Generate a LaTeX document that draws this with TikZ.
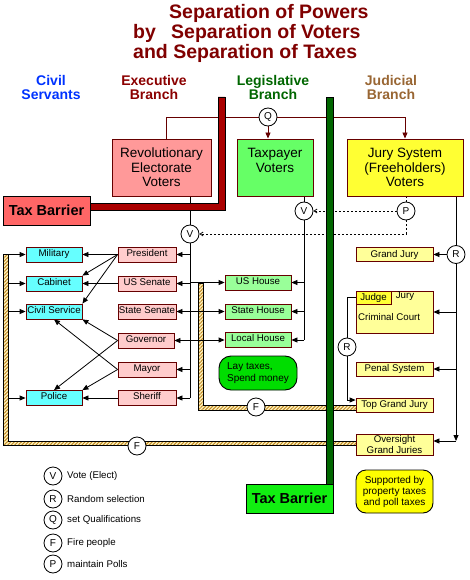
\documentclass[tikz,border=0pt]{standalone}
\usepackage{fontspec}
\setmainfont{Liberation Sans}
\usetikzlibrary{arrows.meta,patterns.meta}
\definecolor{titlered}{HTML}{800000}
\definecolor{execred}{HTML}{8B0000}
\definecolor{legisgreen}{HTML}{006600}
\definecolor{judbrown}{HTML}{996633}
\definecolor{civblue}{HTML}{0033FF}
\definecolor{boxline}{HTML}{660000}
\definecolor{revfill}{HTML}{FF9999}
\definecolor{taxfill}{HTML}{66FF66}
\definecolor{juryfill}{HTML}{FFFF33}
\definecolor{execfill}{HTML}{FFCCCC}
\definecolor{civfill}{HTML}{66FFFF}
\definecolor{housefill}{HTML}{99FF99}
\definecolor{judfill}{HTML}{FFFF99}
\definecolor{suppfill}{HTML}{FFFF00}
\definecolor{laygreen}{HTML}{00DD00}
\definecolor{barredfill}{HTML}{FF6666}
\definecolor{bargreenfill}{HTML}{11EE11}
\definecolor{redbar}{HTML}{AA0000}
\definecolor{greenbar}{HTML}{006600}
\definecolor{hatchbg}{HTML}{FFF2C0}
\definecolor{hatchfg}{HTML}{C08820}
\pgfdeclarelayer{hatchlayer}
\pgfdeclarelayer{back}
\pgfsetlayers{hatchlayer,back,main}
\begin{document}
\begin{tikzpicture}[x=1pt,y=-1pt,
  arr/.style={-{Triangle[length=6pt,width=5pt]}},
  smallarr/.style={-{Straight Barb[length=3pt,width=4pt]}},
  conn/.style={draw=black, line width=0.8pt},
  topline/.style={draw=boxline, line width=0.9pt},
  dashline/.style={draw=black, line width=0.8pt, dash pattern=on 2pt off 2pt},
  titlef/.style={inner sep=0pt, anchor=base west, text=titlered, font=\bfseries\fontsize{19.5}{22}\selectfont},
  headf/.style={inner sep=0pt, anchor=base, font=\bfseries\fontsize{14}{16}\selectfont},
  smallbox/.style={draw=boxline, line width=0.8pt, inner sep=0pt, minimum height=15pt, text height=7pt, text depth=4pt, font=\fontsize{9.7}{11}\selectfont},
  judbox/.style={draw=boxline, line width=0.8pt, inner sep=0pt, minimum width=77pt, fill=judfill, font=\fontsize{9.7}{11.5}\selectfont, align=center},
  bigbox/.style={draw=boxline, line width=0.9pt, inner sep=0pt, minimum height=57pt, align=center, font=\fontsize{13.5}{14.5}\selectfont},
  circ/.style={circle, draw=black, line width=0.8pt, fill=white, minimum size=18pt, inner sep=0pt, font=\fontsize{10}{10}\selectfont},
  barbox/.style={draw=black, line width=0.9pt, inner sep=0pt, minimum width=87pt, minimum height=29pt, font=\bfseries\fontsize{14.5}{16}\selectfont},
  hatchbar/.style={draw=black, line width=0.6pt, preaction={fill=hatchbg}, pattern={Lines[angle=45,distance=2.5pt,line width=1pt]}, pattern color=hatchfg},
  legt/.style={anchor=west, inner sep=0pt, font=\fontsize{9.7}{11}\selectfont}
]
\useasboundingbox (0,0) rectangle (469,580);

% Title
\node[titlef] (t1) at (169,19) {Separation of Powers};
\node[titlef] (t2a) at (133,39) {by};
\node[titlef] (t2b) at (171,39) {Separation of Voters};
\node[titlef] (t3) at (133,59) {and Separation of Taxes};

% Headers
\node[headf, text=civblue] (hc1) at (51,86) {Civil};
\node[headf, text=civblue] (hc2) at (51,100) {Servants};
\node[headf, text=execred] (he1) at (154,86) {Executive};
\node[headf, text=execred] (he2) at (154,100) {Branch};
\node[headf, text=legisgreen] (hl1) at (273,86) {Legislative};
\node[headf, text=legisgreen] (hl2) at (273,100) {Branch};
\node[headf, text=judbrown] (hj1) at (391,86) {Judicial};
\node[headf, text=judbrown] (hj2) at (391,100) {Branch};

% Barriers
\path[draw=black, line width=0.8pt, fill=redbar] (218,97) -- (225,97) -- (225,210) -- (90,210) -- (90,203) -- (218,203) -- cycle;
\path[draw=black, line width=0.8pt, fill=greenbar] (326,97) rectangle (333,484);
\node[barbox, fill=barredfill] (taxbarL) at (46.5,210.5) {Tax Barrier};
\node[barbox, fill=bargreenfill] (taxbarR) at (289.5,498.5) {Tax Barrier};

% Voter boxes
\node[bigbox, fill=revfill, minimum width=99pt] (rev) at (161.5,167.5) {Revolutionary\\Electorate\\Voters};
\node[bigbox, fill=taxfill, minimum width=76pt] (taxp) at (275,167.5) {Taxpayer\\Voters\\\phantom{Voters}};
\node[bigbox, fill=juryfill, minimum width=116pt] (jury) at (405,167.5) {Jury System\\(Freeholders)\\Voters};

% Civil servants
\node[smallbox, fill=civfill, minimum width=56pt] (military) at (54,254.5) {Military};
\node[smallbox, fill=civfill, minimum width=56pt] (cabinet) at (54,283.5) {Cabinet};
\node[smallbox, fill=civfill, minimum width=56pt] (civil) at (54,311.5) {Civil Service};
\node[smallbox, fill=civfill, minimum width=56pt] (police) at (54,398) {Police};

% Executive
\node[smallbox, fill=execfill, minimum width=58pt] (president) at (147,254.5) {President};
\node[smallbox, fill=execfill, minimum width=58pt] (ussenate) at (147,283.5) {US Senate};
\node[smallbox, fill=execfill, minimum width=58pt] (statesenate) at (147,311.5) {State Senate};
\node[smallbox, fill=execfill, minimum width=56pt] (governor) at (146,340.5) {Governor};
\node[smallbox, fill=execfill, minimum width=58pt] (mayor) at (147,369.5) {Mayor};
\node[smallbox, fill=execfill, minimum width=58pt] (sheriff) at (147,398) {Sheriff};

% Legislative
\node[smallbox, fill=housefill, minimum width=66pt] (ushouse) at (258,282.5) {US House};
\node[smallbox, fill=housefill, minimum width=66pt] (statehouse) at (258,311.5) {State House};
\node[smallbox, fill=housefill, minimum width=66pt] (localhouse) at (258,340) {Local House};
\node[draw=black, line width=0.9pt, fill=laygreen, rounded corners=12pt, minimum width=78pt, minimum height=34pt, inner sep=0pt, align=left, font=\fontsize{10}{11.5}\selectfont] (lay) at (258,373) {Lay taxes,\\Spend money};

% Judicial
\node[judbox, minimum height=14pt] (grandjury) at (394.5,254.5) {Grand Jury};
\node[judbox, minimum height=42pt] (crim) at (394.5,312) {};
\node[draw=boxline, line width=0.8pt, fill=juryfill, minimum width=35pt, minimum height=13pt, inner sep=0pt, anchor=north west, font=\fontsize{9.7}{11}\selectfont] (judge) at (crim.north west) {Judge};
\node[inner sep=0pt, font=\fontsize{9.7}{11}\selectfont] (jurylbl) at (405,296) {Jury};
\node[inner sep=0pt, anchor=west, font=\fontsize{9.7}{11}\selectfont] (crimlbl) at (358,317) {Criminal Court};
\node[judbox, minimum height=14pt] (penal) at (394.5,369) {Penal System};
\node[judbox, minimum height=14pt] (topgj) at (394.5,405) {Top Grand Jury};
\node[judbox, minimum height=21pt] (oversight) at (394.5,444.5) {Oversight\\Grand Juries};
\node[draw=black, line width=0.9pt, fill=suppfill, rounded corners=10pt, minimum width=77pt, minimum height=43pt, inner sep=0pt, align=center, font=\fontsize{10}{11}\selectfont] (supp) at (394.5,491.5) {Supported by\\property taxes\\and poll taxes};

% Circles
\node[circ] (qc) at (268,117) {Q};
\node[circ] (v1) at (190,234) {V};
\node[circ] (v2) at (304,211) {V};
\node[circ] (pc) at (406,211) {P};
\node[circ] (rr) at (456,254.5) {R};
\node[circ] (rl) at (347,347) {R};
\node[circ] (fo) at (137,446) {F};
\node[circ] (fi) at (256,407) {F};

% Legend
\node[circ] (lv) at (53,476) {V};
\node[legt] (lvt) at (67,476) {Vote (Elect)};
\node[circ] (lr) at (53,499) {R};
\node[legt] (lrt) at (67,499) {Random selection};
\node[circ] (lq) at (53,520) {Q};
\node[legt] (lqt) at (67,520) {set Qualifications};
\node[circ] (lf) at (53,543) {F};
\node[legt] (lft) at (67,543) {Fire people};
\node[circ] (lp) at (53,564) {P};
\node[legt] (lpt) at (67,564) {maintain Polls};

% Coordinates
\coordinate (exbus) at (190,0);
\coordinate (lgbus) at (304,0);
\coordinate (jdbus) at (456,0);
\coordinate (firebus) at (8,0);
\coordinate (toplft) at (166,117);
\coordinate (toprgt) at (405,117);
\coordinate (jdend) at (456,441);
\coordinate (rl1) at (347,297.5);
\coordinate (rl2) at (347,400);

% Hatched fire barriers
\begin{pgfonlayer}{hatchlayer}
\path[hatchbar] (3,254) -- (8,254) -- (8,441) -- (356,441) -- (356,445) -- (3,445) -- cycle;
\path[hatchbar] (198,283) -- (203,283) -- (203,405) -- (356,405) -- (356,410) -- (198,410) -- cycle;
\end{pgfonlayer}

% Connectors
\begin{pgfonlayer}{back}
\draw[topline, arr] (toplft |- rev.north) -- (toplft) -- (toprgt) -- (toprgt |- jury.north);
\draw[topline, arr] (qc) -- (qc |- taxp.north);
\draw[conn] (exbus |- rev.south) -- (exbus |- sheriff.east);
\foreach \n in {president,ussenate,statesenate,governor,mayor,sheriff}
  \draw[conn, arr] (exbus |- \n.east) -- (\n.east);
\foreach \n in {ushouse,statehouse,localhouse}
  \draw[conn, arr] (exbus |- \n.west) -- (\n.west);
\draw[conn] (lgbus |- taxp.south) -- (lgbus |- localhouse.east);
\foreach \n in {ushouse,statehouse,localhouse}
  \draw[conn, arr] (lgbus |- \n.east) -- (\n.east);
\draw[conn, arr] (jdbus |- jury.south) -- (jdend);
\draw[conn, arr] (jdend) -- (jdend -| oversight.east);
\draw[conn, arr] (rr) -- (grandjury.east);
\draw[conn, arr] (jdbus |- crim.east) -- (crim.east);
\draw[conn, arr] (jdbus |- penal.east) -- (penal.east);
\draw[conn, arr] (judge.west) -- (rl1) -- (rl2) -- (rl2 -| topgj.west);
\draw[dashline] (jury.south -| pc) -- (pc.north);
\draw[dashline, smallarr] (pc) -- (v2);
\draw[dashline, smallarr] (pc.south) |- (v1.east);
\foreach \n in {military,cabinet,civil,police}
  \draw[conn, arr] (firebus |- \n.west) -- (\n.west);
\draw[conn, arr] (president.west) -- (military.east);
\draw[conn, arr] (president.west) -- (cabinet.north east);
\draw[conn, arr] (president.west) -- (civil.north east);
\draw[conn, arr] (ussenate.west) -- (cabinet.east);
\draw[conn, arr] (governor.west) -- (civil.south east);
\draw[conn, arr] (governor.west) -- (police.north);
\draw[conn, arr] (mayor.west) -- (civil.south);
\draw[conn, arr] (mayor.west) -- (police.north east);
\draw[conn, arr] (sheriff.west) -- (police.east);
\end{pgfonlayer}
\end{tikzpicture}
\end{document}
